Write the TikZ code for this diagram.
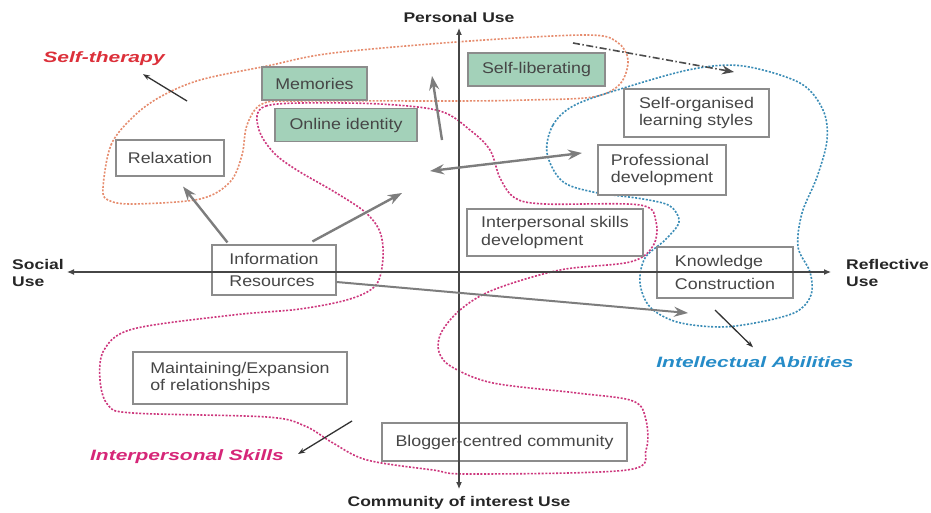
\documentclass[tikz,border=0pt]{standalone}
\usepackage{fontspec}
\setmainfont{Liberation Sans}
\newfontfamily\boxfont{Liberation Sans}[FakeStretch=1.15]
\newfontfamily\axfont{Liberation Sans}[FakeStretch=1.25]
\newfontfamily\lblfont{Liberation Sans}[FakeStretch=1.4]
\usetikzlibrary{arrows.meta,calc}
\definecolor{orangec}{RGB}{230,140,110}
\definecolor{magc}{RGB}{205,55,125}
\definecolor{bluec}{RGB}{58,140,182}
\definecolor{redt}{RGB}{220,48,58}
\definecolor{magt}{RGB}{214,38,120}
\definecolor{bluet}{RGB}{38,140,200}
\definecolor{greenf}{RGB}{163,209,185}
\definecolor{boxgray}{RGB}{140,140,140}
\definecolor{txtgray}{RGB}{70,70,70}
\definecolor{arrgray}{RGB}{125,125,125}
\definecolor{axgray}{RGB}{70,70,70}
\tikzset{
  dotline/.style={line width=1.6pt, dash pattern=on 2pt off 1.6pt},
  bx/.style={draw=boxgray, line width=1.1pt, fill=white, inner sep=0pt, text=txtgray,
     font=\boxfont\fontsize{15.5}{17.5}\selectfont, align=left},
  gbx/.style={bx, fill=greenf},
  thickarr/.style={draw=arrgray, line width=2.4pt, -{Stealth[length=14pt,width=10pt]}},
  ptr/.style={draw=black!80, line width=1.3pt, -{Stealth[length=7pt,width=5pt]}},
  axis/.style={draw=axgray, line width=1.1pt},
  axlbl/.style={font=\axfont\bfseries\fontsize{14}{17}\selectfont, text=black!85, inner sep=0pt, align=left},
  grplbl/.style={font=\lblfont\bfseries\itshape\fontsize{15}{17}\selectfont, inner sep=0pt}
}
\begin{document}
\begin{tikzpicture}[x=1pt,y=-1pt]
\useasboundingbox (0,0) rectangle (931,513);
\fill[white] (0,0) rectangle (931,513);

% group outlines
\draw[orangec, dotline] plot[smooth cycle, tension=0.55] coordinates {
 (103,188) (111,145) (133,117) (160,97) (200,80) (267,66) (333,53) (470,41)
 (587,35) (617,42) (628,60) (620,84) (593,97) (527,100) (460,101) (300,101)
 (262,104) (247,125) (242,155) (230,182) (200,199) (133,204) (108,200)};

\draw[magc, dotline] plot[smooth cycle, tension=0.55] coordinates {
 (257,116) (266,106) (300,103) (380,104) (440,111) (470,130) (490,150) (500,178)
 (515,198) (545,204) (640,205) (656,222) (653,246) (630,262) (560,270)
 (493,290) (460,310) (441,333) (439,352) (452,367) (493,383) (577,393)
 (633,401) (646,420) (646,450) (627,470) (470,474) (433,470) (367,460)
 (333,443) (305,426) (267,417) (133,413) (108,405) (100,380) (104,350)
 (133,329) (233,315) (300,309) (350,299) (376,285) (383,258) (380,232)
 (365,212) (333,191) (300,172) (276,155) (261,135)};

\draw[bluec, dotline] plot[smooth cycle, tension=0.55] coordinates {
 (547,153) (553,125) (575,105) (627,87) (693,69) (743,66) (800,83)
 (823,110) (827,140) (817,177) (802,213) (798,247) (810,272) (811,295)
 (796,312) (760,322) (720,327) (677,322) (650,307) (640,283) (645,258)
 (665,240) (679,222) (670,206) (643,199) (593,192) (562,181)};

% boxes
\node[bx, minimum width=108pt, minimum height=36pt] (relax) at (170,158) {Relaxation};
\node[gbx, minimum width=105pt, minimum height=33pt] (mem) at (314.5,83.5) {Memories};
\node[gbx, minimum width=142pt, minimum height=33pt] (onl) at (346,125) {Online identity};
\node[gbx, minimum width=137pt, minimum height=33pt] (slib) at (536.5,69.5) {Self-liberating};
\node[bx, minimum width=145pt, minimum height=48pt] (solearn) at (696.5,113) {Self-organised\\learning styles};
\node[bx, minimum width=128pt, minimum height=50pt] (prof) at (662,170) {Professional\\development};
\node[bx, minimum width=176pt, minimum height=47pt] (ipsd) at (555,232.5) {Interpersonal skills\\development};
\node[bx, minimum width=136pt, minimum height=51pt] (know) at (725,272.5) {Knowledge\\[6pt]Construction};
\node[bx, minimum width=124pt, minimum height=50pt] (info) at (274,270) {Information\\[4.5pt]Resources};
\node[bx, minimum width=214pt, minimum height=52pt] (maint) at (240,378) {Maintaining/Expansion\\of relationships};
\node[bx, minimum width=245pt, minimum height=38pt] (blog) at (504.5,442) {Blogger-centred community};

% axes
\coordinate (axT) at (459,28);
\coordinate (axB) at (459,489);
\coordinate (axL) at (67,272);
\coordinate (axR) at (831,272);
\draw[axis, {Latex[length=7pt,width=6pt]}-{Latex[length=7pt,width=6pt]}] (axB) -- (axT);
\draw[axis, {Latex[length=7pt,width=6pt]}-{Latex[length=7pt,width=6pt]}] (axL) -- (axR);

\node[axlbl, anchor=center] (ptop) at (459,17) {Personal Use};
\node[axlbl, anchor=center] (pbot) at (459,503) {Community of interest Use};
\node[axlbl, anchor=west] (pleft) at (12,273) {Social\\Use};
\node[axlbl, anchor=west] (pright) at (846,273) {Reflective\\Use};

% group labels
\node[grplbl, text=redt] (sth) at (104,59) {Self-therapy};
\node[grplbl, text=magt] (isk) at (187,457) {Interpersonal Skills};
\node[grplbl, text=bluet] (iab) at (755,362) {Intellectual Abilities};

% thick grey arrows
\coordinate (c1) at (402,193);
\coordinate (c2) at (688,313);
\coordinate (u1) at (442,140);
\coordinate (u2) at (432,76);
\coordinate (d1) at (430,171);
\coordinate (d2) at (582,153);
\draw[thickarr] ($(info.north west)+(16,-2)$) -- ($(relax.south)+(13,10)$);
\draw[thickarr] ($(info.north west)+(101,-3)$) -- (c1);
\draw[thickarr, line width=2pt] ($(info.east)+(0,12)$) -- (c2);
\draw[thickarr] (u1) -- (u2);
\draw[thickarr, {Stealth[length=14pt,width=10pt]}-{Stealth[length=14pt,width=10pt]}] (d1) -- (d2);

% dash-dot arrow
\coordinate (e1) at (573,43);
\coordinate (e2) at (734,72);
\draw[draw=black!70, line width=1.6pt, dash pattern=on 7pt off 2.5pt on 1.5pt off 2.5pt, -{Stealth[length=12pt,width=9pt]}] (e1) -- (e2);

% pointers to group labels
\coordinate (p1) at (187,101);
\coordinate (p2) at (352,421);
\coordinate (p3) at (715,310);
\draw[ptr] (p1) -- ($(sth.south)+(39,8)$);
\draw[ptr] (p2) -- ($(isk.east)+(14,-3)$);
\draw[ptr] (p3) -- ($(iab.north)+(-2,-9)$);
\end{tikzpicture}
\end{document}
